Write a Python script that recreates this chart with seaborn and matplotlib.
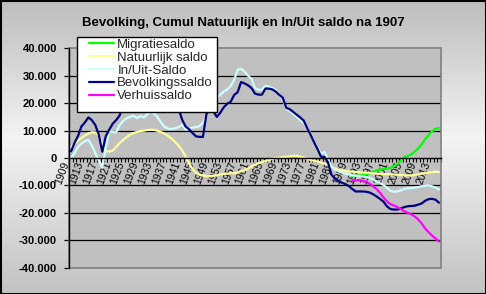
import numpy as np
import pandas as pd
import matplotlib
matplotlib.use("Agg")
import matplotlib.pyplot as plt
import seaborn as sns
from matplotlib.ticker import FuncFormatter, FixedLocator
from matplotlib.patches import Rectangle

# ---------------- data ----------------
years = list(range(1909, 2016))
recent_years = list(range(1990, 2016))

bevolkingssaldo = [
    2400, 5500, 8000, 11500, 13000, 14800, 13800, 12000, 8500, 2300,
    7900, 10300, 12500, 13800, 15500, 19500, 22000, 23500, 24400, 24100,
    25000, 24900, 26000, 27300, 26700, 25000, 23000, 21500, 20500, 20000,
    19500, 18000, 14000, 11500, 10500, 9100, 7900, 7700, 7700, 16000,
    17500, 17000, 15000, 16500, 18500, 19800, 20500, 23000, 24000, 27700,
    27200, 26500, 25500, 23500, 23100, 23100, 25300, 25300, 25000, 24200,
    23000, 22000, 18300, 17800, 16800, 15800, 14800, 13700, 11000, 8500,
    5800, 3300, 500, 400, -1500, -6000, -7500, -8300, -9000, -9500,
    -10200, -11300, -12200, -12200, -12200, -12300, -12600, -13200, -14000, -14900,
    -15900, -17600, -18600, -18800, -18800, -18400, -17900, -17600, -17500, -17400,
    -17000, -16600, -15600, -15000, -14900, -15200, -16300,
]

inuit_saldo = [
    0, 1800, 4000, 5300, 6100, 6600, 4500, 1800, -1000, -3500,
    3500, 9800, 9500, 9300, 12000, 13500, 14500, 15000, 15400, 14600,
    15300, 14800, 16000, 17000, 16200, 14800, 12800, 11300, 10700, 10600,
    10800, 11300, 12200, 10400, 10800, 11100, 11300, 11600, 12800, 15500,
    19500, 21000, 22000, 23100, 24200, 25000, 26200, 28500, 32200, 32600,
    31500, 30000, 28800, 25500, 24900, 24900, 26300, 26000, 25500, 24800,
    23000, 21500, 17800, 17200, 16000, 15000, 13800, 12800, 11000, 8800,
    6000, 3800, 1500, 2200, -500, -3000, -4200, -4800, -5300, -5700,
    -6000, -6300, -6500, -6600, -6700, -6900, -7200, -7800, -8500, -9200,
    -9800, -10800, -12000, -12300, -12200, -11800, -11300, -11000, -10900, -10800,
    -10600, -10300, -10100, -10000, -10300, -10800, -11500,
]

natuurlijk_saldo = [
    3800, 5300, 6300, 7300, 8200, 8900, 9400, 9300, 8300, 5000,
    2500, 2400, 2600, 4000, 5400, 6600, 7600, 8500, 9100, 9500,
    9800, 10000, 10200, 10300, 10200, 9900, 9400, 8800, 8000, 7000,
    5800, 4500, 2800, 500, -2000, -4000, -5400, -6100, -6400, -6600,
    -6600, -6500, -6300, -6000, -5800, -5700, -5600, -5500, -5300, -4800,
    -4400, -3800, -3100, -2400, -1900, -1500, -1100, -700, -300, 0,
    100, 300, 400, 600, 800, 800, 500, 100, -300, -700,
    -1000, -1300, -1600, -2000, -2600, -3300, -3800, -4200, -4500, -4800,
    -4900, -5000, -5100, -5200, -5300, -5400, -5500, -5600, -5700, -5800,
    -5900, -5900, -6000, -6000, -6100, -6200, -6300, -6300, -6400, -6200,
    -6000, -5700, -5500, -5300, -5200, -5000, -5100,
]

migratiesaldo = [
    -6600, -6500, -6400, -6300, -6000, -5500, -5000, -4600, -4300, -4000,
    -3800, -3600, -3000, -2200, -1000, 300, 700, 1300, 2300, 3500,
    5000, 6800, 8300, 9800, 10600, 10900,
]

verhuissaldo = [
    -8000, -8100, -8100, -8300, -8700, -9400, -10300, -11300, -12700, -14300,
    -15800, -16800, -17300, -17900, -18600, -19400, -20000, -20500, -21300, -22400,
    -23800, -25700, -27000, -28300, -29300, -30500,
]

series_names = ["Migratiesaldo", "Natuurlijk saldo", "In/Uit-Saldo",
                "Bevolkingssaldo", "Verhuissaldo"]
series_colors = ["#00ff00", "#ffff99", "#ccffff", "#000080", "#ff00ff"]
label_years = list(range(1909, 2016, 4))
title_text = "Bevolking, Cumul Natuurlijk en In/Uit saldo na 1907"

frames = [
    pd.DataFrame({"jaar": recent_years, "waarde": migratiesaldo, "reeks": series_names[0]}),
    pd.DataFrame({"jaar": years, "waarde": natuurlijk_saldo, "reeks": series_names[1]}),
    pd.DataFrame({"jaar": years, "waarde": inuit_saldo, "reeks": series_names[2]}),
    pd.DataFrame({"jaar": years, "waarde": bevolkingssaldo, "reeks": series_names[3]}),
    pd.DataFrame({"jaar": recent_years, "waarde": verhuissaldo, "reeks": series_names[4]}),
]
df = pd.concat(frames, ignore_index=True)

# ---------------- style ----------------
sns.set_theme(style="white")
plt.rcParams["font.family"] = ["Liberation Sans", "DejaVu Sans"]

W, H = 486, 294
fig = plt.figure(figsize=(W / 100, H / 100), dpi=100)

# vertical gradient background (grey - light - grey)
yy = np.arange(H)
peak = 138.0
g = np.where(yy < peak,
             0.74 + (0.955 - 0.74) * (yy / peak),
             0.955 - (0.955 - 0.76) * ((yy - peak) / (H - peak)))
bg = np.repeat(g[:, None], W, axis=1)
bg = np.dstack([bg, bg, bg])
fig.figimage(bg, xo=0, yo=0, zorder=-5, origin="upper")

fig.add_artist(Rectangle((0, 0), 1, 1, transform=fig.transFigure, fill=False,
                         edgecolor="black", linewidth=2.2, zorder=10))

ax_l, ax_r, ax_t, ax_b = 69.3, 440.7, 48.3, 267.7
ax = fig.add_axes([ax_l / W, 1 - ax_b / H, (ax_r - ax_l) / W, (ax_b - ax_t) / H])
ax.set_facecolor("#c0c0c0")

for v in [-30000, -20000, -10000, 10000, 20000, 30000]:
    ax.axhline(v, color="black", linewidth=0.9, zorder=1)

sns.lineplot(data=df, x="jaar", y="waarde", hue="reeks", hue_order=series_names,
             palette=series_colors, linewidth=1.6, estimator=None, sort=False,
             ax=ax, zorder=3)

handles, labels = ax.get_legend_handles_labels()
if ax.get_legend() is not None:
    ax.get_legend().remove()

ax.set_xlim(1908.5, 2015.5)
ax.set_ylim(-40000, 40000)
ax.set_xlabel("")
ax.set_ylabel("")

# plot-area border
ax.add_patch(Rectangle((0, 0), 1, 1, transform=ax.transAxes, fill=False,
                       edgecolor="#808080", linewidth=1.2, zorder=4, clip_on=False))

for s in ["top", "right"]:
    ax.spines[s].set_visible(False)
ax.spines["left"].set_color("black")
ax.spines["left"].set_linewidth(1.0)
ax.spines["left"].set_zorder(5)
ax.spines["bottom"].set_position(("data", 0))
ax.spines["bottom"].set_color("black")
ax.spines["bottom"].set_linewidth(1.0)
ax.spines["bottom"].set_zorder(5)

ax.set_yticks(list(range(-40000, 40001, 10000)))
ax.yaxis.set_major_formatter(FuncFormatter(lambda v, p: f"{int(v):,}".replace(",", ".")))
ax.tick_params(axis="y", which="major", direction="out", length=3.5, width=0.9,
               color="black", pad=5.5, labelsize=8, left=True)

ax.xaxis.set_major_locator(FixedLocator(label_years))
ax.xaxis.set_major_formatter(FuncFormatter(lambda v, p: str(int(round(v)))))
ax.xaxis.set_minor_locator(FixedLocator(list(np.arange(1908.5, 2016, 1.0))))
ax.tick_params(axis="x", which="major", length=0, pad=4.0, labelsize=7.5,
               bottom=True, labelcolor="black", labelrotation=70)
ax.tick_params(axis="x", which="minor", direction="out", length=3, width=0.8,
               color="black", bottom=True)

fig.text(243 / W, 1 - 23 / H, title_text, ha="center", va="center",
         fontsize=9.5, fontweight="bold", color="black")

# legend box
lx0, ly0, lx1, ly1 = 77.3, 37.3, 216.7, 111.7
fig.add_artist(Rectangle((lx0 / W, 1 - ly1 / H), (lx1 - lx0) / W, (ly1 - ly0) / H,
                         transform=fig.transFigure, facecolor="white",
                         edgecolor="black", linewidth=1.0, zorder=6))
leg = fig.legend(handles, labels, loc="upper left",
                 bbox_to_anchor=(89 / W, 1 - 38.5 / H), frameon=False,
                 fontsize=9.5, handlelength=1.9, handletextpad=0.25,
                 labelspacing=0.05, borderpad=0, borderaxespad=0)
leg.set_zorder(7)
for line in leg.get_lines():
    line.set_linewidth(1.6)

# finalise tick label styling after ticks exist
fig.canvas.draw()
plt.setp(ax.get_yticklabels(), fontweight="bold", color="black")
plt.setp(ax.get_xticklabels(), rotation=70, rotation_mode="anchor",
         ha="right", va="bottom")

fig.savefig("out.png", dpi=100)
